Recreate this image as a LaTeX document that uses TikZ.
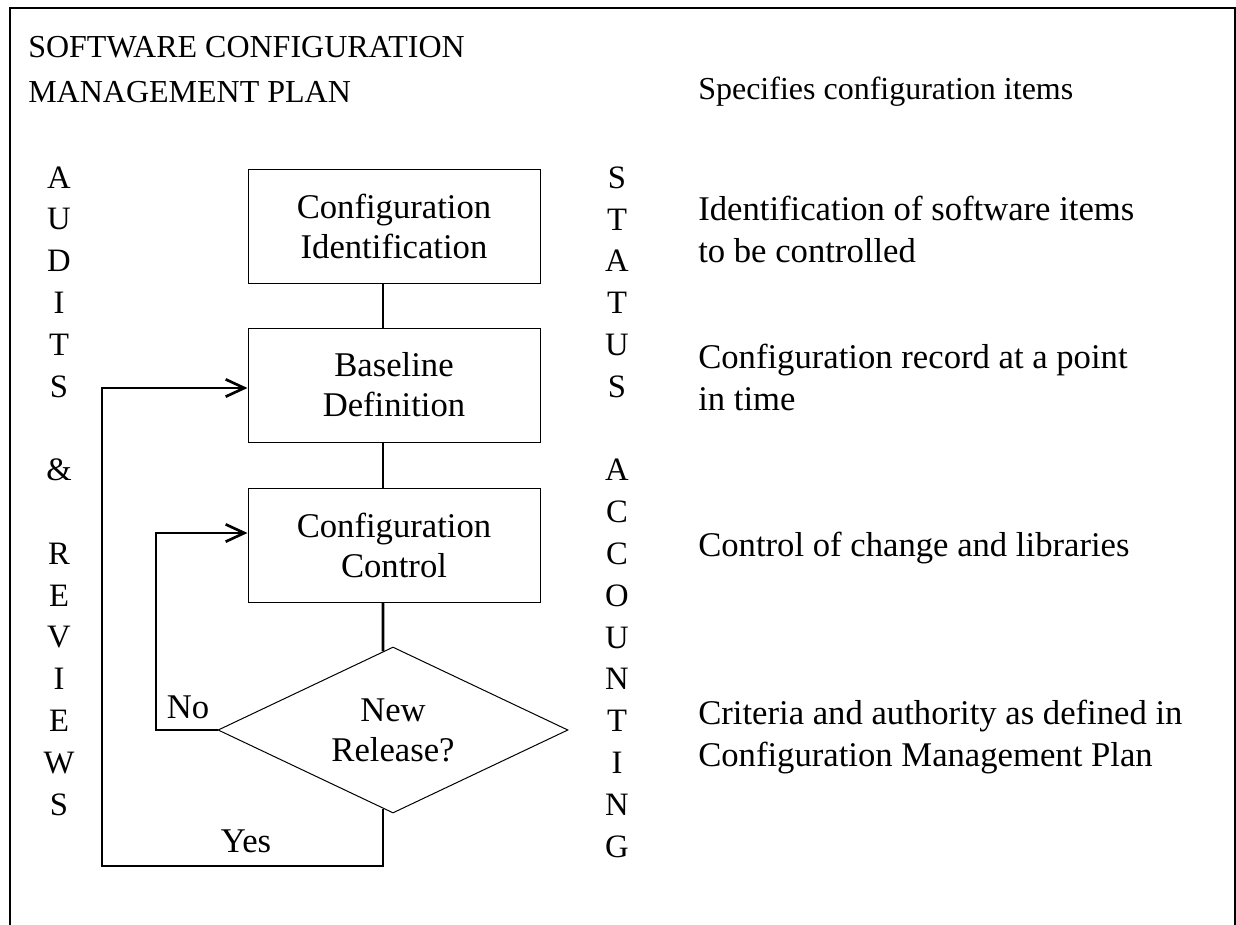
\documentclass[tikz,border=0pt]{standalone}
\usepackage{fontspec}
\setmainfont{Liberation Serif}
\usetikzlibrary{arrows.meta,calc,shapes.geometric}
\begin{document}
\begin{tikzpicture}[x=0.75pt,y=-0.75pt,
  thinline/.style={line width=0.75pt},
  flow/.style={line width=2pt},
  arr/.style={flow,-{Straight Barb[length=14pt,width=13pt]}},
  btxt/.style={font=\fontsize{26}{30}\selectfont,align=center,inner sep=0pt},
  stepbox/.style={btxt,draw,thinline,minimum width=219pt,minimum height=85.5pt},
  decide/.style={btxt,draw,thinline,shape=diamond,aspect=2.1,minimum width=262.5pt,minimum height=124.5pt},
  rtxt/.style={font=\fontsize{26}{31.5}\selectfont,align=left,inner sep=0pt},
  vtxt/.style={font=\fontsize{24.5}{31.35}\selectfont,align=center,inner sep=0pt},
  lbl/.style={font=\fontsize{26}{30}\selectfont,inner sep=0pt}]
\useasboundingbox (0,0) rectangle (1236,925);
% frame (open at the bottom)
\draw[line width=1.5pt,line join=miter] (10,925) -- (10,8) -- (1235,8) -- (1235,925);

% title and notes
\node[font=\fontsize{24}{33.75}\selectfont,align=left,inner sep=0pt,anchor=north west] (title) at (28,36.5)
  {SOFTWARE CONFIGURATION\\MANAGEMENT PLAN};
\node[font=\fontsize{24}{30}\selectfont,inner sep=0pt,anchor=base west] (n0) at (698,99) {Specifies configuration items};
\node[rtxt,anchor=north west] (n1) at (698,196.3) {Identification of software items\\to be controlled};
\node[rtxt,anchor=north west] (n2) at (698,344.3) {Configuration record at a point\\in time};
\node[rtxt,anchor=base west] (n3) at (698,556) {Control of change and libraries};
\node[rtxt,anchor=north west] (n4) at (698,700.3) {Criteria and authority as defined in\\Configuration Management Plan};

% vertical side labels
\node[vtxt] (audits) at (59,491) {A\\U\\D\\I\\T\\S\\\mbox{}\\\&\\\mbox{}\\R\\E\\V\\I\\E\\W\\S};
\node[vtxt] (status) at (617,512) {S\\T\\A\\T\\U\\S\\\mbox{}\\A\\C\\C\\O\\U\\N\\T\\I\\N\\G};

% flow chart
\node[stepbox] (b1) at (394,226) {Configuration\\Identification};
\node[stepbox] (b2) at (394,385) {Baseline\\Definition};
\node[stepbox] (b3) at (394,545) {Configuration\\Control};
\node[decide] (d) at (393,730) {New\\Release?};

\coordinate (sp) at (383,0);
\coordinate (dtop) at ($(d.north)!0.0571!(d.west)$);
\coordinate (dbot) at ($(d.south)!0.0571!(d.west)$);
\coordinate (ycorner) at (102,866);
\coordinate (ncorner) at (156,730);
\coordinate (b2in) at ($(b2.west)+(0,3)$);
\coordinate (b3in) at ($(b3.west)+(0,-12)$);

\draw[flow] (b1.south -| sp) -- (b2.north -| sp);
\draw[flow] (b2.south -| sp) -- (b3.north -| sp);
\draw[flow] (b3.south -| sp) -- (dtop);
\draw[arr] (dbot) |- (ycorner) |- (b2in);
\draw[arr] (d.west) -- (ncorner) |- (b3in);

\node[lbl] (no) at (188,707.5) {No};
\node[lbl] (yes) at (246,841.5) {Yes};
\end{tikzpicture}
\end{document}
